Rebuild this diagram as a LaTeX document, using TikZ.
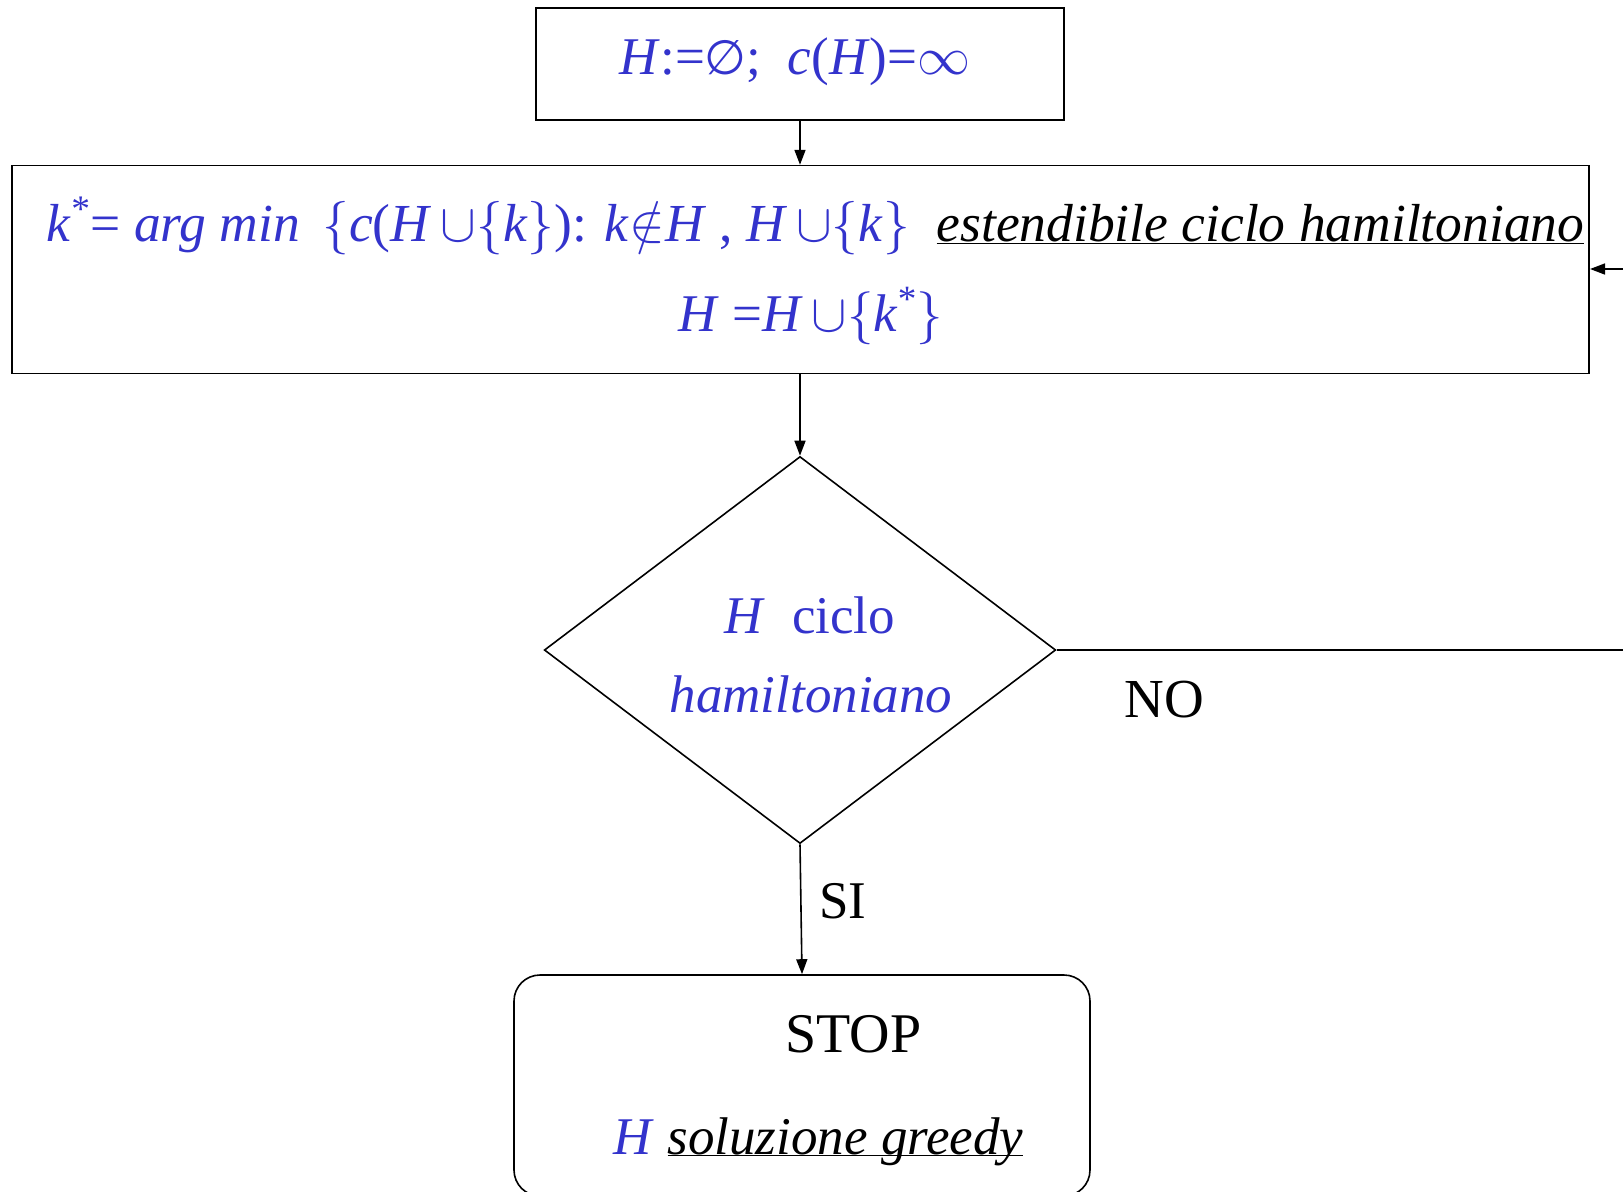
\RequirePackage{fix-cm}
\documentclass[tikz,border=0pt]{standalone}
\usepackage{fontspec}
\setmainfont{LiberationSerif}[Extension=.ttf, UprightFont=*-Regular,
  ItalicFont=*-Italic, BoldFont=*-Bold, BoldItalicFont=*-BoldItalic]
\newfontfamily\symfont{DejaVu Sans}
\usetikzlibrary{shapes.geometric,arrows.meta}
\definecolor{formula}{RGB}{51,51,204}
\newcommand\fsz[1]{\fontsize{#1bp}{#1bp}\selectfont}

\begin{document}
\begin{tikzpicture}[x=1bp,y=-1bp,
  box/.style={draw, line width=1.6bp, inner sep=0pt},
  flow/.style={line width=1.6bp, -{Triangle[length=15bp,width=11bp]}},
  lbl/.style={inner sep=0pt, anchor=base, font=\fsz{53}},
]
\useasboundingbox (0,0) rectangle (1623,1191);
\clip (0,0) rectangle (1623,1191);

% boxes
\node[box, minimum width=528bp, minimum height=112bp] (init) at (800,64) {};
\node[box, minimum width=1577bp, minimum height=208bp] (greedy) at (800.7,269.6) {};
\node[box, diamond, minimum width=511.5bp, minimum height=387bp] (test) at (800,650) {};
\node[box, rounded corners=26bp, minimum width=576bp, minimum height=221bp] (stop) at (802,1085.5) {};

% texts
\node[lbl, text=formula] (t0) at (795,74)
  {\textit{H}:={\symfont\fsz{48}∅};\ \ \textit{c}(\textit{H})=$\infty$};
\node[lbl, anchor=base west, text=formula, font=\fsz{53.5}] (t1) at (46.6,241)
  {\textit{k}\textsuperscript{*}= \textit{arg min} \,$\{$\textit{c}(\textit{H}\,$\cup$$\{$\textit{k}$\}$): \textit{k}$\notin$\textit{H} , \textit{H}\,$\cup$$\{$\textit{k}$\}$\ \ {\color{black}\underline{\textit{estendibile ciclo hamiltoniano}}}};
\node[lbl, text=formula] (t2) at (811,331)
  {\textit{H} =\textit{H}\,$\cup$$\{$\textit{k}\textsuperscript{*}$\}$};
\node[lbl, text=formula] (t3) at (810,633) {\textit{H}\ \ ciclo};
\node[lbl, text=formula] (t4) at (811,712) {\textit{hamiltoniano}};
\node[lbl, font=\fsz{55}] (no) at (1164,717) {NO};
\node[lbl] (si) at (843,918) {SI};
\node[lbl, font=\fsz{56}] (st) at (853.5,1052) {STOP};
\node[lbl] (sol) at (818.5,1154)
  {{\color{formula}\textit{H}} \underline{\smash{\textit{soluzione greedy}}}};

% connectors
\coordinate (backA) at (1650,650);
\coordinate (backB) at (1650,269);
\draw[flow] (init.south) -- (init.south |- greedy.north);
\draw[flow] (greedy.south -| test.north) -- (test.north);
\draw[flow] (test.south) -- (stop.north);
\draw[flow] (test.east) -- (backA) -- (backB) -- (backB -| greedy.east);
\end{tikzpicture}
\end{document}
